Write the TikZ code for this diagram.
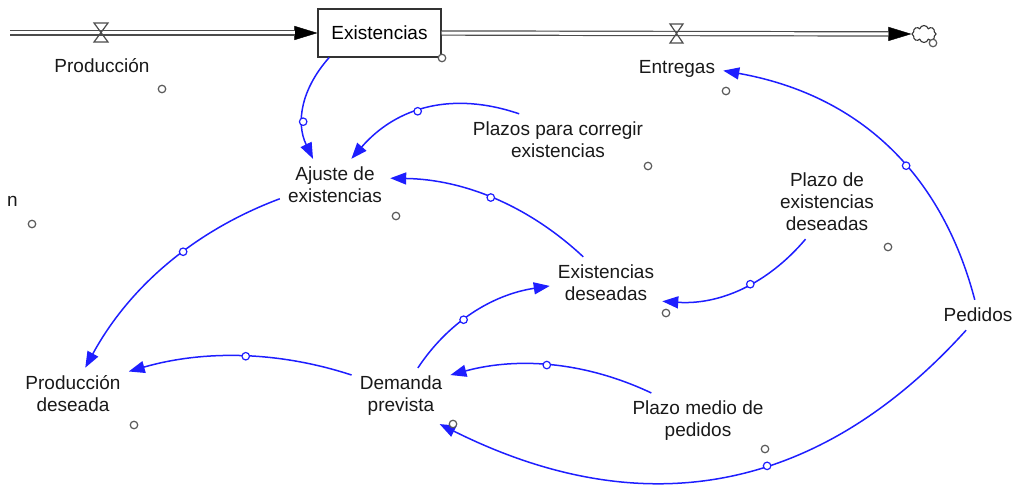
\documentclass[tikz,border=0pt]{standalone}
\usepackage{fontspec}
\setmainfont{Liberation Sans}
\usetikzlibrary{arrows.meta,shapes.symbols,calc}
\definecolor{linkblue}{RGB}{30,30,255}
\definecolor{inkgray}{RGB}{90,90,90}
\begin{document}
\begin{tikzpicture}[x=1pt,y=-1pt,
  var/.style={font=\fontsize{19}{22}\selectfont, align=center, inner xsep=8pt, inner ysep=8pt, text=black!90},
  link/.style={draw=linkblue, line width=1.5pt, -{Triangle[length=16pt,width=12pt]}},
  handle/.style={circle, draw=linkblue, fill=white, line width=1.2pt, inner sep=0pt, minimum size=7.5pt},
  dot/.style={circle, draw=inkgray, fill=white, line width=1.2pt, inner sep=0pt, minimum size=7.5pt},
  pipe/.style={draw=black!70, double=white, double distance=3pt, line width=1.2pt},
  pipehead/.style={draw=black, line width=0.4pt, -{Triangle[length=23pt,width=14pt]}},
  valve/.style={draw=black!70, line width=1.2pt},
]
\useasboundingbox (0,0) rectangle (1018,487);

% quadratic curve from A to B with control Q, as a cubic
\newcommand{\qlink}[5]{%
  \draw[link] (#1) .. controls ($(#1)!0.6667!(#2)$) and ($(#3)!0.6667!(#2)$) .. (#3)
    node[handle, pos=#4] (#5) {};}

% stock
\node[draw=black!80, line width=1.1pt, minimum width=123pt, minimum height=48pt, inner sep=0pt,
      font=\fontsize{19}{22}\selectfont] (exist) at (379.5,33) {Existencias};
\node[cloud, cloud puffs=8, aspect=1.4, draw=black!80, line width=1.1pt,
      minimum width=24pt, minimum height=17pt, inner sep=0pt] (sink) at (924,34) {};
\coordinate (src) at (10,33);

% pipes
\draw[pipehead] (src) -- (exist.west);
\draw[pipe, shorten >=22pt] (src) -- (exist.west);
\draw[pipehead] (exist.east) -- (sink.west);
\draw[pipe, shorten >=23pt] (exist.east) -- (sink.west);

% valves
\draw[valve] (94,23) -- (108,23) -- (94,42) -- (108,42) -- cycle;
\draw[valve] (670,24) -- (683,24) -- (670,43) -- (683,43) -- cycle;

% variables
\node[var] (prod) at (102,66) {Producción};
\node[var] (entr) at (677,69) {Entregas};
\node[var] (ajuste) at (335,185) {Ajuste de\\existencias};
\node[var] (plazos) at (558,140) {Plazos para corregir\\existencias};
\node[var] (plazoex) at (827,202) {Plazo de\\existencias\\deseadas};
\node[var] (exdes) at (606,283) {Existencias\\deseadas};
\node[var] (pedidos) at (978,315) {Pedidos};
\node[var] (proddes) at (73,394) {Producción\\deseada};
\node[var] (demanda) at (401,396) {Demanda\\prevista};
\node[var] (plazomed) at (698,421) {Plazo medio de\\pedidos};
\node[var, anchor=east, inner xsep=0pt] (nn) at (18,201) {n};

% control points
\coordinate (q1) at (287,105);
\coordinate (q2) at (420,80);
\coordinate (q3) at (501,180);
\coordinate (q4) at (151,247);
\coordinate (q5) at (241.5,339);
\coordinate (q6) at (463.5,299);
\coordinate (q7) at (748,307);
\coordinate (q8) at (554,347);
\coordinate (q9) at (744,576);
\coordinate (q10) at (924,106.5);

% links
\qlink{exist.-154}{q1}{ajuste.130}{0.648}{h1}
\qlink{plazos.146}{q2}{ajuste.58}{0.56}{h2}
\qlink{exdes.131}{q3}{ajuste.7}{0.516}{h3}
\qlink{ajuste.194}{q4}{proddes.65}{0.418}{h4}
\qlink{demanda.157}{q5}{proddes.22}{0.478}{h5}
\qlink{demanda.59}{q6}{exdes.183}{0.422}{h6}
\qlink{plazoex.240}{q7}{exdes.-18}{0.434}{h7}
\qlink{plazomed.149}{q8}{demanda.23}{0.528}{h8}
\qlink{pedidos.-128}{q9}{demanda.-36}{0.416}{h9}
\qlink{pedidos.102}{q10}{entr.-2}{0.418}{h10}

% small label markers
\node[dot] (m1) at (162,89) {};
\node[dot] (m2) at (442,58) {};
\node[dot] (m3) at (726,91) {};
\node[dot] (m4) at (933,43) {};
\node[dot] (m5) at (396,216) {};
\node[dot] (m6) at (648,166) {};
\node[dot] (m7) at (32,224) {};
\node[dot] (m8) at (888,247) {};
\node[dot] (m9) at (666,313) {};
\node[dot] (m10) at (134,425) {};
\node[dot] (m11) at (453,424) {};
\node[dot] (m12) at (765,449) {};
\end{tikzpicture}
\end{document}
